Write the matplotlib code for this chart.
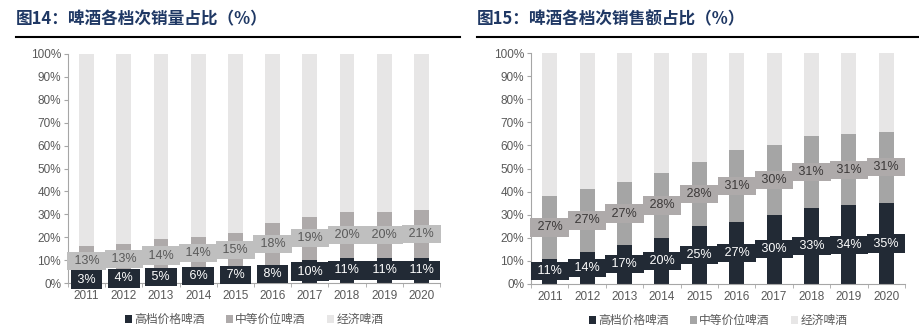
import matplotlib
matplotlib.use("Agg")
import matplotlib.pyplot as plt
from matplotlib.patches import Patch
from matplotlib.lines import Line2D

years = ["2011", "2012", "2013", "2014", "2015", "2016", "2017", "2018", "2019", "2020"]
vol_high = [3, 4, 5, 6, 7, 8, 10, 11, 11, 11]
vol_mid = [13, 13, 14, 14, 15, 18, 19, 20, 20, 21]
rev_high = [11, 14, 17, 20, 25, 27, 30, 33, 34, 35]
rev_mid = [27, 27, 27, 28, 28, 31, 30, 31, 31, 31]
legend_labels = ["高档价格啤酒", "中等价位啤酒", "经济啤酒"]
titles = ["图14：啤酒各档次销量占比（%）", "图15：啤酒各档次销售额占比（%）"]

C_HIGH = "#222a35"
C_MID_L = "#aeaaaa"
C_MID_R = "#a5a5a5"
C_LOW = "#e7e6e6"
TXT = "#595959"
NUM_FONT = ["Liberation Sans", "DejaVu Sans"]
CJK = ["Noto Sans CJK SC", "DejaVu Sans"]

W, H = 920, 332
fig = plt.figure(figsize=(W / 100, H / 100), dpi=100)


def px_axes(x0, y_top, x1, y_bot):
    return fig.add_axes([x0 / W, (H - y_bot) / H, (x1 - x0) / W, (y_bot - y_top) / H])


def draw(ax, high, mid, mid_color, mid_box, mid_txt):
    x = list(range(len(years)))
    low = [100 - h - m for h, m in zip(high, mid)]
    bw = 0.4
    ax.bar(x, high, width=bw, color=C_HIGH, zorder=2)
    ax.bar(x, mid, width=bw, bottom=high, color=mid_color, zorder=2)
    ax.bar(x, low, width=bw, bottom=[h + m for h, m in zip(high, mid)], color=C_LOW, zorder=2)
    for i in x:
        ax.text(i, high[i] / 2, f" {high[i]}% ", ha="center", va="center", fontsize=9,
                color="white", family=NUM_FONT, zorder=4,
                bbox=dict(boxstyle="square,pad=0.25", fc=C_HIGH, ec="none"))
        ax.text(i, high[i] + mid[i] / 2, f" {mid[i]}% ", ha="center", va="center", fontsize=9,
                color=mid_txt, family=NUM_FONT, zorder=4,
                bbox=dict(boxstyle="square,pad=0.25", fc=mid_box, ec="none"))
    ax.set_xlim(-0.5, len(years) - 0.5)
    ax.set_ylim(0, 100)
    ax.set_yticks(range(0, 101, 10))
    ax.set_yticklabels([f"{v}%" for v in range(0, 101, 10)], family=NUM_FONT, fontsize=8.5, color=TXT)
    ax.set_xticks(x)
    ax.set_xticklabels(years, family=NUM_FONT, fontsize=8.5, color=TXT)
    ax.set_xticks([i - 0.5 for i in range(len(years) + 1)], minor=True)
    ax.tick_params(axis="x", which="major", length=0, pad=5)
    ax.tick_params(axis="x", which="minor", length=3, color="#a6a6a6")
    ax.tick_params(axis="y", length=3, color="#a6a6a6", pad=2)
    for s in ["top", "right"]:
        ax.spines[s].set_visible(False)
    for s in ["left", "bottom"]:
        ax.spines[s].set_color("#a6a6a6")
    handles = [Patch(fc=C_HIGH, ec="none"), Patch(fc=mid_color, ec="none"), Patch(fc=C_LOW, ec="none")]
    ax.legend(handles, legend_labels, loc="upper center", bbox_to_anchor=(0.5, -0.085), ncol=3,
              frameon=False, prop=dict(family=CJK, size=8.5), labelcolor=TXT,
              handlelength=0.6, handleheight=0.6, handletextpad=0.2, columnspacing=1.8)


ax1 = px_axes(68, 54, 440, 283)
draw(ax1, vol_high, vol_mid, C_MID_L, "#bfbfbf", "#595959")
ax2 = px_axes(531, 53, 905, 284)
draw(ax2, rev_high, rev_mid, C_MID_R, "#aeaaaa", "#3b3838")

for tx, x0, x1, tl in [(16, 16, 460, titles[0]), (477, 477, 920, titles[1])]:
    fig.text(tx / W, 1 - 19 / H, tl, ha="left", va="center", fontsize=12, fontweight="bold",
             color="#1f3864", family=CJK)
    fig.add_artist(Line2D([x0 / W, x1 / W], [1 - 37 / H, 1 - 37 / H], color="black", lw=1.5))

fig.savefig("out.png", dpi=100)
